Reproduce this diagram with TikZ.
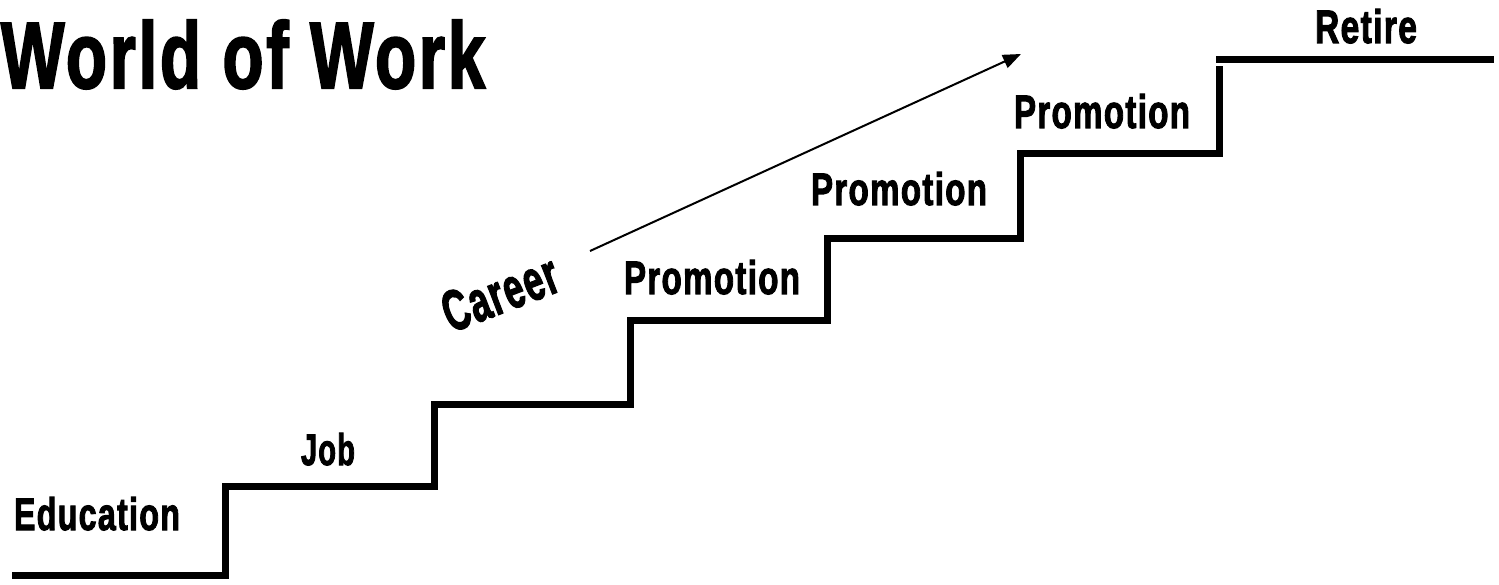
\documentclass[tikz,border=0pt]{standalone}
\usepackage{fontspec}
\usepackage{graphicx}
\usetikzlibrary{arrows.meta}
\newfontfamily\imp{Liberation Sans Bold}[FakeBold=2.5, LetterSpace=4]
\newcommand{\fitbox}[3]{\resizebox{#1pt}{#2pt}{#3}}
\begin{document}
\begin{tikzpicture}[x=1pt,y=-1pt,
  lbl/.style={inner sep=0pt, outer sep=0pt, anchor=base west, font=\imp},
  stair/.style={line width=7pt, line join=miter, line cap=butt},
  careerarrow/.style={line width=2pt, -{Triangle[length=18pt,width=14pt]}}]
\useasboundingbox (0,0) rectangle (1499,585);
% title
\node[lbl] (title) at (1,88) {\fitbox{484}{68}{World of Work}};
% staircase
\draw[stair] (12,575) -- (225,575) -- (225,486) -- (434,486) -- (434,404)
  -- (630,404) -- (630,320) -- (827,320) -- (827,239) -- (1020,239)
  -- (1020,154) -- (1219,154) -- (1219,66);
\draw[stair] (1216,60) -- (1494,60);
% labels
\node[lbl] (edu) at (14,530) {\fitbox{166}{33}{Education}};
\node[lbl] (job) at (301,465) {\fitbox{54}{32}{Job}};
\node[lbl] (promA) at (624,294) {\fitbox{176}{34}{Promotion}};
\node[lbl] (promB) at (811,205) {\fitbox{176}{33}{Promotion}};
\node[lbl] (promC) at (1014,128) {\fitbox{176}{34}{Promotion}};
\node[lbl] (retire) at (1315,43) {\fitbox{102}{34}{Retire}};
\node[inner sep=0pt, font=\imp, rotate=21] (career) at (500,293) {\fitbox{120}{40}{Career}};
% arrow
\coordinate (arrS) at (590,251);
\coordinate (arrE) at (1021,54);
\draw[careerarrow] (arrS) -- (arrE);
\end{tikzpicture}
\end{document}
